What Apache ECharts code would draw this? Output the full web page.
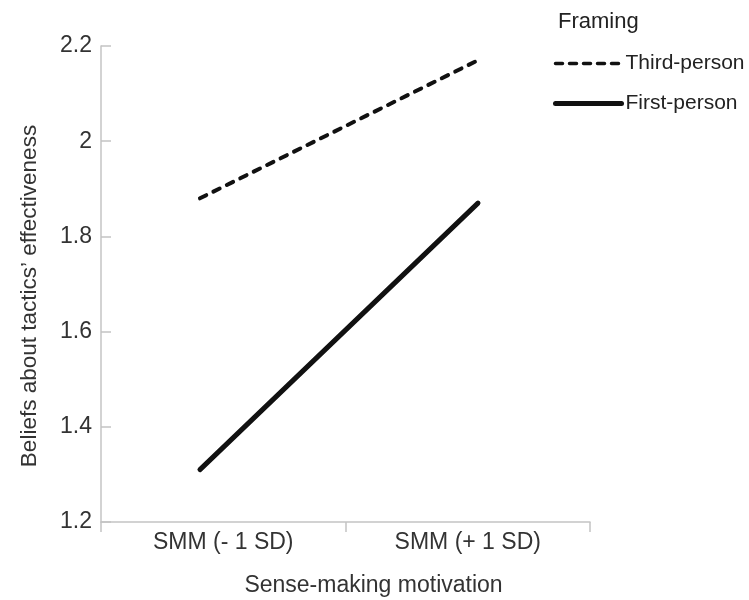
<!DOCTYPE html>
<html>
<head>
<meta charset="utf-8">
<script src="https://cdn.jsdelivr.net/npm/echarts@6/dist/echarts.min.js"></script>
<style>
  html, body { margin: 0; padding: 0; background: #fff; }
  #chart { width: 749px; height: 600px; }
</style>
</head>
<body>
<div id="chart"></div>
<script>
// Category labels along the x axis
const categories = ['SMM (- 1 SD)', 'SMM (+ 1 SD)'];
// Positions of the two conditions on the line scale (low / high motivation)
const conditionIndex = [0, 1];
// Mean beliefs per framing condition
const thirdPerson = [1.88, 2.17];
const firstPerson = [1.31, 1.87];
// Y axis range and ticks
const yMin = 1.2, yMax = 2.2, yStep = 0.2;

const FONT = '"Liberation Sans", Arial, sans-serif';
const INK = '#111';
const AXIS = '#c4c4c4';

const dashStyle = { color: INK, width: 4, type: [7, 8], cap: 'round' };
const solidStyle = { color: INK, width: 5, type: 'solid', cap: 'round' };

const pairs = (vals) => conditionIndex.map((x, i) => [x, vals[i]]);

const chart = echarts.init(document.getElementById('chart'), null, { renderer: 'canvas' });
chart.setOption({
  backgroundColor: '#ffffff',
  animation: false,
  textStyle: { fontFamily: FONT },
  title: {
    text: 'Framing',
    left: 553, top: 6,
    textStyle: { fontFamily: FONT, fontSize: 22, fontWeight: 'normal', color: '#222' }
  },
  legend: {
    orient: 'vertical',
    left: 548, top: 48,
    itemWidth: 66, itemHeight: 16,
    itemGap: 19,
    itemStyle: { opacity: 0 },
    textStyle: { fontFamily: FONT, fontSize: 21, color: '#222', padding: [0, 0, 0, -1] },
    data: [
      { name: 'Third-person', lineStyle: { width: 3.5, type: [7, 7], cap: 'round' } },
      { name: 'First-person', lineStyle: { width: 5, type: 'solid', cap: 'round' } }
    ]
  },
  grid: { left: 101, right: 159, top: 46, bottom: 78, containLabel: false, outerBoundsMode: 'none' },
  xAxis: [
    {
      type: 'category',
      data: categories,
      boundaryGap: true,
      name: 'Sense-making motivation',
      nameLocation: 'middle',
      nameGap: 52,
      nameTextStyle: { fontFamily: FONT, fontSize: 23, color: '#333', padding: [0, 0, 0, 56] },
      axisLine: { onZero: false, lineStyle: { color: AXIS, width: 1.5 } },
      axisTick: { show: true, length: 10, lineStyle: { color: AXIS, width: 1.5 } },
      axisLabel: { fontFamily: FONT, fontSize: 23, color: '#333', margin: 9 }
    },
    {
      // hidden numeric scale that places the two condition means
      type: 'value',
      min: -0.356, max: 1.403,
      show: false
    }
  ],
  yAxis: {
    type: 'value',
    min: yMin, max: yMax, interval: yStep,
    name: 'Beliefs about tactics’ effectiveness',
    nameLocation: 'middle',
    nameGap: 60,
    nameTextStyle: { fontFamily: FONT, fontSize: 22.5, color: '#333', padding: [0, 24, 0, 0] },
    axisLine: { show: true, onZero: false, lineStyle: { color: AXIS, width: 1.5 } },
    axisTick: { show: true, inside: true, length: 10, lineStyle: { color: AXIS, width: 1.5 } },
    splitLine: { show: false },
    axisLabel: {
      fontFamily: FONT, fontSize: 23, color: '#333', margin: 9,
      formatter: (v) => String(Math.round(v * 10) / 10)
    }
  },
  series: [
    {
      name: 'Third-person',
      type: 'line',
      xAxisIndex: 1,
      data: pairs(thirdPerson),
      symbol: 'none',
      lineStyle: dashStyle,
      itemStyle: { color: INK }
    },
    {
      name: 'First-person',
      type: 'line',
      xAxisIndex: 1,
      data: pairs(firstPerson),
      symbol: 'none',
      lineStyle: solidStyle,
      itemStyle: { color: INK }
    }
  ]
});
</script>
</body>
</html>
